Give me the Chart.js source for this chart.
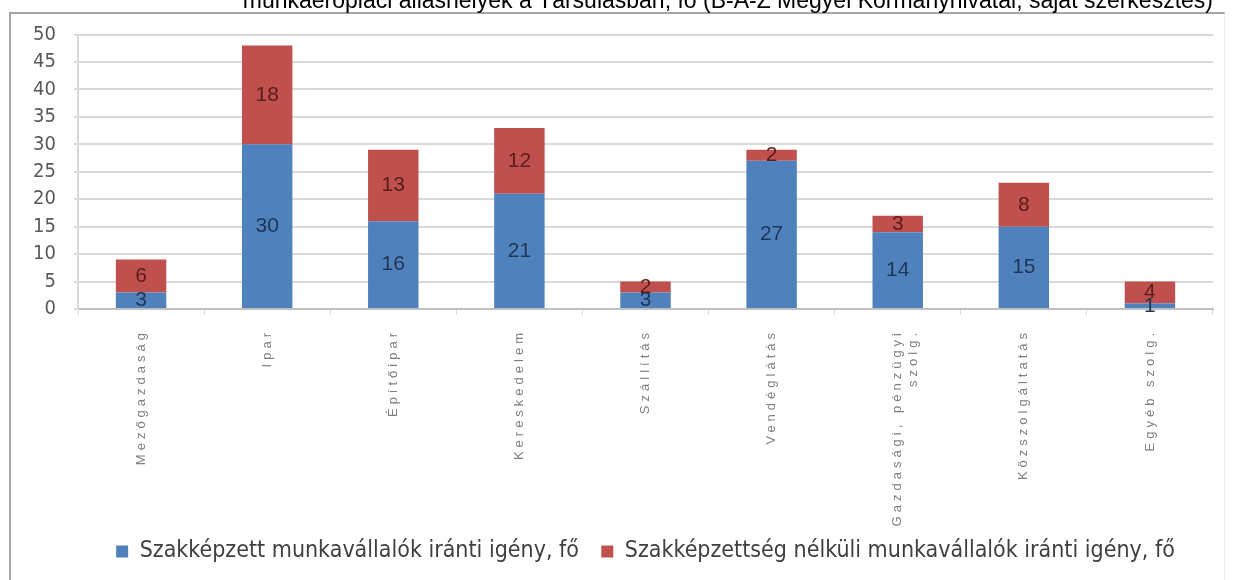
<!DOCTYPE html>
<html>
<head>
<meta charset="utf-8">
<script src="https://cdn.jsdelivr.net/npm/chart.js@4/dist/chart.umd.min.js"></script>
<style>
  html, body { margin: 0; padding: 0; background: #fff; overflow: hidden; }
  #wrap { position: relative; width: 1235px; height: 580px; overflow: hidden; }
  #frame { position: absolute; left: 9px; top: 12px; right: 10px; bottom: -5px;
           border-left: 2px solid #a6a6a6; border-top: 2px solid #a6a6a6; border-right: 1px solid #ececec; }
  #c { position: absolute; left: 0; top: -12px; }
</style>
</head>
<body>
<div id="wrap">
  <div id="frame"></div>
  <canvas id="c" width="1235" height="592"></canvas>
</div>
<script>
// kategóriák és értékek (fő)
const categories = [
  'Mezőgazdaság', 'Ipar', 'Építőipar', 'Kereskedelem', 'Szállítás',
  'Vendéglátás', ['Gazdasági, pénzügyi', 'szolg.'], 'Közszolgáltatás', 'Egyéb szolg.'
];
const skilled = [3, 30, 16, 21, 3, 27, 14, 15, 1];
const unskilled = [6, 18, 13, 12, 2, 2, 3, 8, 4];
const yTicks = [0, 5, 10, 15, 20, 25, 30, 35, 40, 45, 50];

const titleText = 'munkaerőpiaci álláshelyek a Társulásban, fő (B-A-Z Megyei Kormányhivatal, saját szerkesztés)';
const seriesNames = [
  'Szakképzett munkavállalók iránti igény, fő',
  'Szakképzettség nélküli munkavállalók iránti igény, fő'
];

const narrow = '"Liberation Sans Narrow", "DejaVu Sans Condensed", "Liberation Sans", sans-serif';

// értékek kiírása a szegmensek közepére
const valueLabels = {
  id: 'valueLabels',
  afterDatasetsDraw(chart) {
    const ctx = chart.ctx;
    ctx.save();
    ctx.letterSpacing = '0px';
    ctx.font = '21px "Liberation Sans", Arial, sans-serif';
    ctx.textAlign = 'center';
    ctx.textBaseline = 'middle';
    chart.data.datasets.forEach((ds, i) => {
      const meta = chart.getDatasetMeta(i);
      ctx.fillStyle = i === 0 ? '#1f3555' : '#5a1d1b';
      meta.data.forEach((bar, j) => {
        const p = bar.getProps(['x', 'y', 'base'], true);
        ctx.fillText(String(ds.data[j]), p.x, (p.y + p.base) / 2);
      });
    });
    ctx.restore();
    // az x tengely feliratai ritkított betűközzel (ticks.z:1, utána rajzolódnak)
    ctx.letterSpacing = '4px';
  },
  afterDraw(chart) {
    chart.ctx.letterSpacing = '0px';
  }
};

new Chart(document.getElementById('c'), {
  type: 'bar',
  data: {
    labels: categories,
    datasets: [{
      label: seriesNames[0],
      data: skilled,
      backgroundColor: '#4f81bd'
    }, {
      label: seriesNames[1],
      data: unskilled,
      backgroundColor: '#c0504d'
    }]
  },
  plugins: [valueLabels],
  options: {
    responsive: false,
    animation: false,
    layout: { padding: { left: 0, right: 22, top: 0, bottom: 7 } },
    datasets: {
      bar: { categoryPercentage: 1, barPercentage: 0.4 }
    },
    plugins: {
      title: {
        display: true,
        text: titleText,
        align: 'end',
        color: '#000',
        font: { family: '"Liberation Sans", Arial, sans-serif', size: 23, weight: 'normal' },
        padding: { top: 0, bottom: 19 }
      },
      legend: {
        position: 'bottom',
        fullSize: false,
        labels: {
          boxWidth: 12,
          boxHeight: 12,
          padding: 12,
          color: '#404040',
          font: { family: narrow, size: 23 },
          generateLabels(chart) {
            const items = Chart.defaults.plugins.legend.labels.generateLabels(chart);
            items[0].text += '\u2002';
            return items;
          }
        }
      },
      tooltip: { enabled: false }
    },
    scales: {
      x: {
        stacked: true,
        afterFit(s) { s.height = 219; },
        grid: { display: true, drawOnChartArea: false, offset: true, tickLength: 6, color: '#d9d9d9' },
        border: { color: '#bfbfbf', width: 2 },
        ticks: {
          z: 1,
          minRotation: 90,
          maxRotation: 90,
          autoSkip: false,
          padding: 14,
          color: '#7f7f7f',
          font: { family: '"Liberation Sans", Arial, sans-serif', size: 13 }
        }
      },
      y: {
        stacked: true,
        min: 0,
        max: 50,
        afterFit(s) { s.width = 78; },
        afterBuildTicks(s) { s.ticks = yTicks.map(v => ({ value: v })); },
        grid: { color: '#d9d9d9', lineWidth: 2, tickLength: 4 },
        border: { display: true, color: '#d9d9d9', width: 2 },
        ticks: {
          padding: 18,
          color: '#595959',
          font: { family: narrow, size: 20 }
        }
      }
    }
  }
});
</script>
</body>
</html>
